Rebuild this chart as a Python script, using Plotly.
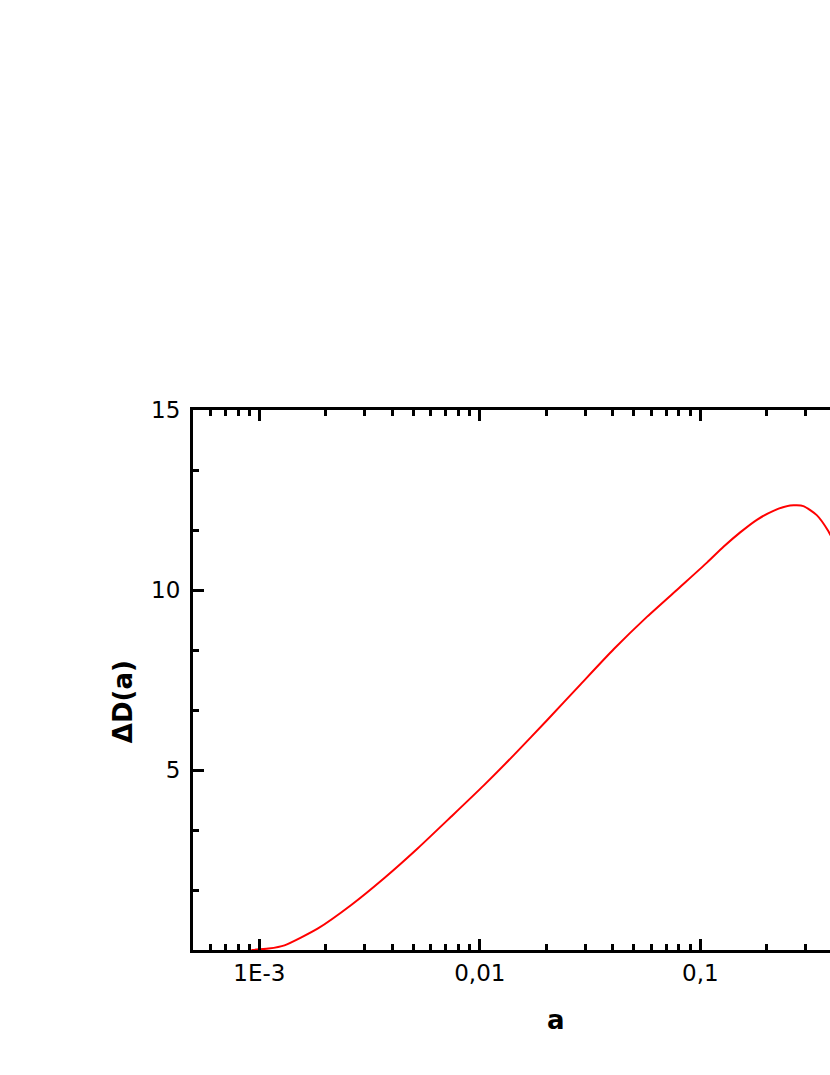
import numpy as np
import plotly.graph_objects as go

# curve
a_vals = [0.00092, 0.0011, 0.0013, 0.001845, 0.00261, 0.00369, 0.00522, 0.0074, 0.01045,
          0.01429, 0.02022, 0.02864, 0.04055, 0.05741, 0.0812, 0.1072,
          0.1274, 0.1517, 0.1805, 0.2146, 0.2553, 0.2934, 0.3374, 0.3805, 0.40]
dD_vals = [0.0, 0.04, 0.13, 0.60, 1.25, 2.00, 2.82, 3.70, 4.58,
           5.42, 6.39, 7.38, 8.36, 9.26, 10.09, 10.76,
           11.20, 11.60, 11.95, 12.20, 12.35, 12.33, 12.08, 11.64, 11.38]

x_tickvals = [0.001, 0.01, 0.1, 1]
x_ticktext = ["1E-3", "0,01", "0,1", "1"]
y_tickvals = [0, 5, 10, 15]
y_ticktext = ["", "5", "10", "15"]

x_minor = [m * d for d in [1e-4, 1e-3, 1e-2, 1e-1] for m in range(2, 10)]
y_minor = [v / 3 * 5 for v in range(0, 10) if v % 3]

fig = go.Figure()
fig.add_trace(go.Scatter(x=a_vals, y=dD_vals, mode="lines",
                         line=dict(color="#ff0000", width=2, shape="spline", smoothing=0.6),
                         showlegend=False))

fig.update_layout(
    width=830,
    height=1075,
    margin=dict(l=193, r=0, t=410, b=125),
    plot_bgcolor="white",
    paper_bgcolor="white",
    font=dict(family="DejaVu Sans", size=23, color="black"),
)

fig.update_xaxes(
    type="log",
    range=[np.log10(5e-4), -1 + 130 / 221],
    showline=True, linewidth=3, linecolor="black", mirror="allticks",
    showgrid=False, zeroline=False,
    ticks="inside", ticklen=11, tickwidth=3, tickcolor="black",
    tickmode="array", tickvals=x_tickvals, ticktext=x_ticktext,
    minor=dict(ticks="inside", ticklen=6, tickwidth=3, tickcolor="black",
               tickmode="array", tickvals=x_minor, showgrid=False),
)
fig.update_yaxes(
    range=[0, 15],
    showline=True, linewidth=3, linecolor="black", mirror=False,
    showgrid=False, zeroline=False,
    ticks="inside", ticklen=11, tickwidth=3, tickcolor="black",
    tickmode="array", tickvals=y_tickvals, ticktext=y_ticktext,
    ticklabelstandoff=5,
    minor=dict(ticks="inside", ticklen=6, tickwidth=3, tickcolor="black",
               tickmode="array", tickvals=y_minor, showgrid=False),
)

# axis titles placed as in the original (the original plot is wider than the page)
fig.add_annotation(text="<b>a</b>", xref="paper", yref="paper", x=0.5705, y=0,
                   xanchor="center", yanchor="middle", yshift=-70,
                   showarrow=False, font=dict(size=26))
fig.add_annotation(text="<b>ΔD(a)</b>", xref="paper", yref="paper", x=0, y=0.459,
                   xanchor="center", yanchor="middle", xshift=-70, textangle=-90,
                   showarrow=False, font=dict(size=26))

# no body margin and no scrollbars, so the figure fills the window exactly
fig.write_html("out.html",
               config={"displayModeBar": False},
               post_script="document.body.style.margin='0';"
                           "document.body.style.overflow='hidden';")
